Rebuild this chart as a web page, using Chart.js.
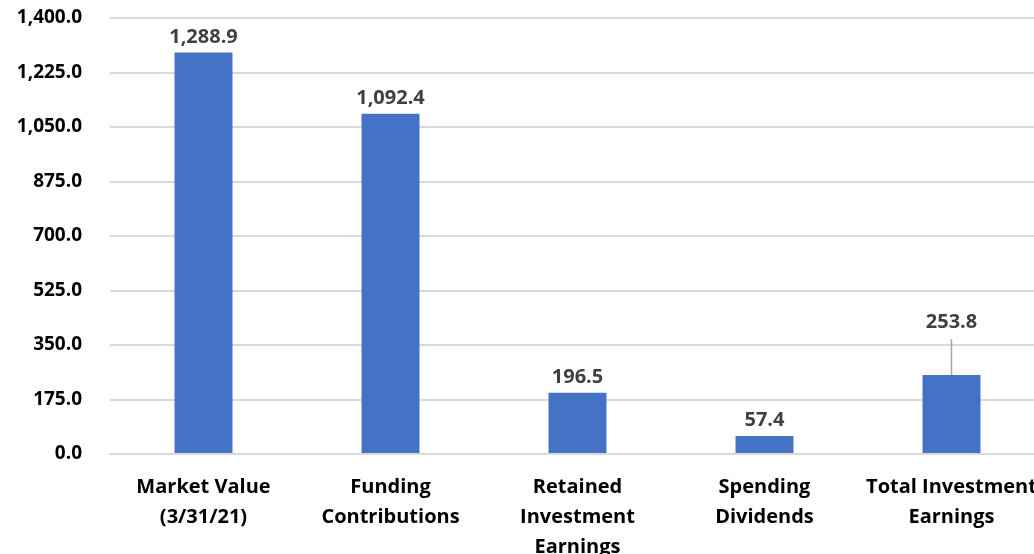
<!DOCTYPE html>
<html>
<head>
<meta charset="utf-8">
<script src="https://cdn.jsdelivr.net/npm/chart.js@4/dist/chart.umd.min.js"></script>
<style>
  html, body { margin: 0; padding: 0; background: #fff; overflow: hidden; }
  #wrap { width: 1045px; height: 554px; }
</style>
</head>
<body>
<div id="wrap"><canvas id="bar-chart"></canvas></div>
<script>
// chart values
const categories = [
  ['Market Value', '(3/31/21)'],
  ['Funding', 'Contributions'],
  ['Retained', 'Investment', 'Earnings'],
  ['Spending', 'Dividends'],
  ['Total Investment', 'Earnings']
];
const values = [1288.9, 1092.4, 196.5, 57.4, 253.8];
const yTicks = [0, 175, 350, 525, 700, 875, 1050, 1225, 1400];

// extra lift (px) for labels pulled up with a leader line
const labelLift = [0, 0, 0, 0, 37];

const FONT = '"Open Sans", "Liberation Sans", sans-serif';
const fmt = v => v.toLocaleString('en-US', { minimumFractionDigits: 1, maximumFractionDigits: 1 });

// simple value labels on top of bars
const barLabels = {
  id: 'barLabels',
  afterDatasetsDraw(chart) {
    const ctx = chart.ctx;
    const meta = chart.getDatasetMeta(0);
    ctx.save();
    ctx.font = 'bold 20px ' + FONT;
    ctx.fillStyle = '#404040';
    ctx.textAlign = 'center';
    ctx.textBaseline = 'alphabetic';
    meta.data.forEach((bar, i) => {
      const lift = labelLift[i] || 0;
      const y = bar.y - 10 - lift;
      if (lift) {
        ctx.strokeStyle = '#a6a6a6';
        ctx.lineWidth = 1.5;
        ctx.beginPath();
        ctx.moveTo(bar.x, bar.y);
        ctx.lineTo(bar.x, y + 11);
        ctx.stroke();
      }
      ctx.fillText(fmt(values[i]), bar.x, y);
    });
    ctx.restore();
  }
};

const ctx = document.getElementById('bar-chart').getContext('2d');
new Chart(ctx, {
  type: 'bar',
  data: {
    labels: categories,
    datasets: [{
      data: values,
      backgroundColor: '#4472c4',
      barPercentage: 0.62,
      categoryPercentage: 0.5
    }]
  },
  options: {
    responsive: true,
    maintainAspectRatio: false,
    animation: false,
    layout: { padding: { top: 18, left: 0, right: 0, bottom: 0 } },
    plugins: {
      legend: { display: false },
      tooltip: { enabled: false }
    },
    scales: {
      x: {
        grid: { display: false, drawTicks: false },
        border: { display: true, color: '#d9d9d9', width: 2 },
        ticks: {
          color: '#000',
          padding: 18,
          maxRotation: 0,
          autoSkip: false,
          font: { family: FONT, size: 20, weight: 'bold', lineHeight: 1.5 }
        },
        afterFit(scale) {
          scale.height = 100;
          scale.paddingLeft = 0;
          scale.paddingRight = 0;
        }
      },
      y: {
        min: 0,
        max: 1400,
        afterBuildTicks(scale) { scale.ticks = yTicks.map(v => ({ value: v })); },
        grid: { color: '#d9d9d9', lineWidth: 2, drawTicks: false },
        border: { display: false },
        ticks: {
          color: '#000',
          padding: 28,
          callback: v => fmt(v),
          font: { family: FONT, size: 19, weight: 'bold' }
        },
        afterFit(scale) {
          scale.width = 110;
          scale.paddingTop = 0;
          scale.paddingBottom = 0;
        }
      }
    }
  },
  plugins: [barLabels]
});
</script>
</body>
</html>
